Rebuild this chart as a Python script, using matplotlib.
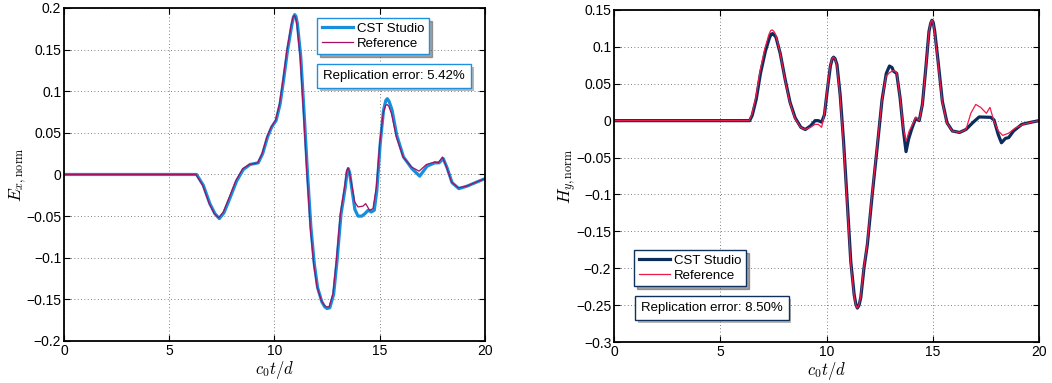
import matplotlib
matplotlib.use("Agg")
import matplotlib.pyplot as plt
from matplotlib.ticker import FuncFormatter
from matplotlib import patheffects as pe

plt.rcParams['font.family'] = ['Liberation Sans', 'DejaVu Sans']
plt.rcParams['mathtext.fontset'] = 'cm'

# E_x, normalised: reference solution
ex_ref_t = [0, 6.27, 6.59, 6.9, 7.14, 7.35, 7.57, 7.86, 8.17, 8.49, 8.81, 9.2, 9.41,
            9.64, 9.84, 10.05, 10.24, 10.4, 10.59, 10.79, 10.88, 10.94, 11.0, 11.06,
            11.22, 11.38, 11.54, 11.7, 11.86, 12.02, 12.22, 12.36, 12.46, 12.6, 12.78,
            12.94, 13.13, 13.33, 13.43, 13.49, 13.55, 13.65, 13.81, 13.97, 14.21, 14.33,
            14.52, 14.68, 14.84, 15.0, 15.16, 15.28, 15.35, 15.43, 15.56, 15.79, 16.11,
            16.51, 16.87, 17.22, 17.62, 17.78, 17.98, 18.17, 18.41, 18.73, 19.13, 19.6,
            20.0]
ex_ref = [0, 0, -0.013, -0.035, -0.047, -0.052, -0.045, -0.027, -0.007, 0.007, 0.012,
          0.014, 0.025, 0.045, 0.057, 0.065, 0.085, 0.113, 0.149, 0.179, 0.189, 0.191,
          0.189, 0.181, 0.141, 0.073, 0.001, -0.063, -0.107, -0.135, -0.151, -0.157,
          -0.159, -0.159, -0.143, -0.103, -0.047, -0.015, 0.004, 0.008, 0.004, -0.009,
          -0.033, -0.039, -0.038, -0.035, -0.043, -0.041, -0.015, 0.037, 0.073, 0.083,
          0.084, 0.082, 0.073, 0.045, 0.021, 0.009, 0.004, 0.012, 0.015, 0.014, 0.021,
          0.009, -0.009, -0.016, -0.014, -0.009, -0.005]

# E_x, normalised: CST Studio
ex_cst_t = [0, 6.3, 6.62, 6.93, 7.17, 7.38, 7.6, 7.89, 8.2, 8.52, 8.84, 9.23, 9.44,
            9.67, 9.87, 10.08, 10.27, 10.43, 10.62, 10.82, 10.9, 10.96, 11.02, 11.09,
            11.25, 11.41, 11.57, 11.73, 11.89, 12.05, 12.25, 12.39, 12.5, 12.63, 12.81,
            12.97, 13.16, 13.36, 13.45, 13.51, 13.57, 13.67, 13.82, 13.97, 14.15, 14.3,
            14.45, 14.6, 14.74, 14.86, 15.02, 15.18, 15.29, 15.36, 15.44, 15.58, 15.81,
            16.13, 16.53, 16.9, 17.25, 17.62, 17.82, 18.02, 18.2, 18.44, 18.76, 19.15,
            19.62, 20.0]
ex_cst = [0, 0, -0.013, -0.035, -0.047, -0.053, -0.046, -0.028, -0.008, 0.006, 0.012,
          0.014, 0.025, 0.045, 0.057, 0.065, 0.085, 0.113, 0.149, 0.179, 0.189, 0.192,
          0.190, 0.181, 0.141, 0.073, 0.001, -0.063, -0.107, -0.136, -0.153, -0.159,
          -0.161, -0.160, -0.144, -0.104, -0.048, -0.016, 0.003, 0.007, 0.002, -0.016,
          -0.042, -0.050, -0.050, -0.047, -0.043, -0.045, -0.043, -0.02, 0.036, 0.077,
          0.089, 0.091, 0.088, 0.078, 0.047, 0.021, 0.007, -0.002, 0.010, 0.014, 0.014,
          0.019, 0.008, -0.010, -0.017, -0.014, -0.009, -0.005]

# H_y, normalised: reference solution
hy_ref_t = [0, 6.36, 6.48, 6.67, 6.87, 7.1, 7.29, 7.37, 7.44, 7.52, 7.6, 7.8, 8.03,
            8.26, 8.5, 8.77, 8.99, 9.24, 9.46, 9.61, 9.77, 9.89, 10.02, 10.17, 10.26,
            10.32, 10.39, 10.48, 10.63, 10.79, 10.98, 11.13, 11.29, 11.37, 11.44, 11.52,
            11.6, 11.75, 11.91, 12.14, 12.37, 12.6, 12.8, 12.96, 13.15, 13.3, 13.46,
            13.61, 13.74, 13.89, 14.08, 14.2, 14.36, 14.51, 14.67, 14.82, 14.89, 14.95,
            15.01, 15.08, 15.24, 15.44, 15.66, 15.91, 16.25, 16.56, 16.79, 17.02, 17.25,
            17.52, 17.69, 17.88, 18.08, 18.29, 18.57, 18.88, 19.27, 19.65, 20.0]
hy_ref = [0, 0, 0.008, 0.031, 0.067, 0.098, 0.117, 0.122, 0.123, 0.121, 0.117, 0.094,
          0.058, 0.026, 0.004, -0.009, -0.012, -0.009, -0.005, -0.005, -0.009, 0.008,
          0.04, 0.074, 0.084, 0.086, 0.084, 0.076, 0.035, -0.028, -0.118, -0.191, -0.236,
          -0.249, -0.254, -0.250, -0.240, -0.2, -0.168, -0.1, -0.037, 0.026, 0.060,
          0.065, 0.068, 0.065, 0.031, -0.01, -0.028, -0.014, -0.003, 0.005, 0.0, 0.022,
          0.071, 0.121, 0.132, 0.136, 0.133, 0.121, 0.08, 0.026, -0.003, -0.014, -0.016,
          -0.012, 0.010, 0.022, 0.018, 0.010, 0.018, -0.001, -0.014, -0.020, -0.017,
          -0.01, -0.005, -0.002, 0.0]

# H_y, normalised: CST Studio
hy_cst_t = [0, 6.38, 6.5, 6.69, 6.89, 7.12, 7.31, 7.39, 7.46, 7.54, 7.62, 7.82, 8.05,
            8.28, 8.52, 8.79, 9.0, 9.25, 9.46, 9.61, 9.77, 9.9, 10.03, 10.18, 10.27,
            10.33, 10.4, 10.49, 10.64, 10.8, 10.99, 11.14, 11.3, 11.38, 11.45, 11.53,
            11.61, 11.76, 11.92, 12.15, 12.38, 12.61, 12.81, 12.96, 13.08, 13.15, 13.3,
            13.46, 13.61, 13.74, 13.86, 14.0, 14.1, 14.2, 14.36, 14.51, 14.67, 14.82,
            14.9, 14.96, 15.02, 15.09, 15.25, 15.45, 15.67, 15.92, 16.26, 16.56, 16.87,
            17.18, 17.72, 17.88, 18.08, 18.23, 18.42, 18.57, 18.8, 19.19, 19.65, 20.0]
hy_cst = [0, 0, 0.007, 0.029, 0.064, 0.094, 0.112, 0.117, 0.118, 0.116, 0.113, 0.091,
          0.056, 0.025, 0.004, -0.009, -0.012, -0.007, 0.0, 0.0, -0.002, 0.008, 0.04,
          0.074, 0.084, 0.086, 0.084, 0.076, 0.035, -0.028, -0.118, -0.191, -0.236,
          -0.249, -0.254, -0.250, -0.240, -0.2, -0.168, -0.1, -0.037, 0.028, 0.064,
          0.074, 0.072, 0.067, 0.064, 0.031, -0.012, -0.042, -0.025, -0.012, -0.004,
          0.003, 0.0, 0.022, 0.071, 0.121, 0.132, 0.136, 0.133, 0.121, 0.08, 0.026,
          -0.003, -0.014, -0.016, -0.012, -0.003, 0.005, 0.0045, 0.001, -0.019, -0.030,
          -0.024, -0.023, -0.014, -0.005, -0.002, 0.0]

panels = [
    dict(t_ref=ex_ref_t, ref=ex_ref, t_cst=ex_cst_t, cst=ex_cst,
         ylabel=r'$E_{x,\mathrm{norm}}$', yticks=[-0.2, -0.15, -0.1, -0.05, 0, 0.05,
                                                   0.1, 0.15, 0.2],
         cst_color='#1690de', ref_color='#a3105f', frame='#1f8fe0',
         error='Replication error: 5.42%',
         rect=[0.0608, 0.1097, 0.4002, 0.8695], ylabel_x=-0.084,
         leg_anchor=(0.601, 0.97), txt_pos=(0.616, 0.796)),
    dict(t_ref=hy_ref_t, ref=hy_ref, t_cst=hy_cst_t, cst=hy_cst,
         ylabel=r'$H_{y,\mathrm{norm}}$', yticks=[-0.3, -0.25, -0.2, -0.15, -0.1, -0.05,
                                                   0, 0.05, 0.1, 0.15],
         cst_color='#0b2c5c', ref_color='#f2184a', frame='#10305e',
         error='Replication error: 8.50%',
         rect=[0.5837, 0.107, 0.404, 0.867], ylabel_x=-0.082,
         leg_anchor=(0.047, 0.277), txt_pos=(0.063, 0.102)),
]

fmt = FuncFormatter(lambda v, _: f'{round(v, 4):g}'.replace('-', '\u2212'))

fig = plt.figure(figsize=(10.52, 3.83), dpi=100)
for p in panels:
    ax = fig.add_axes(p['rect'])
    ax.plot(p['t_cst'], p['cst'], color=p['cst_color'], lw=2.3, label='CST Studio')
    ax.plot(p['t_ref'], p['ref'], color=p['ref_color'], lw=0.9, label='Reference')
    ax.set_xlim(0, 20)
    ax.set_ylim(p['yticks'][0], p['yticks'][-1])
    ax.set_xticks([0, 5, 10, 15, 20])
    ax.set_yticks(p['yticks'])
    ax.yaxis.set_major_formatter(fmt)
    ax.grid(True, ls=(0, (1, 3)), color='#555555', lw=0.6)
    ax.tick_params(direction='in', top=True, right=True, length=4, labelsize=10,
                   width=0.8, pad=2)
    for s in ax.spines.values():
        s.set_linewidth(1.3)
    ax.set_xlabel(r'$c_0t/d$', fontsize=12, labelpad=1)
    ax.set_ylabel(p['ylabel'], fontsize=12.5)
    ax.yaxis.set_label_coords(p['ylabel_x'], 0.5)

    leg = ax.legend(loc='upper left', bbox_to_anchor=p['leg_anchor'], borderaxespad=0,
                    fontsize=9.5, fancybox=False, shadow=True, handlelength=2.4,
                    handletextpad=0.3, borderpad=0.35, labelspacing=0.2,
                    framealpha=1)
    leg.get_frame().set_edgecolor(p['frame'])
    leg.get_frame().set_linewidth(1.0)

    txt = ax.text(*p['txt_pos'], p['error'], transform=ax.transAxes, fontsize=9.5,
                  ha='left', va='center',
                  bbox=dict(boxstyle='square,pad=0.45', fc='white', ec=p['frame'], lw=1.0))
    txt.get_bbox_patch().set_path_effects(
        [pe.SimplePatchShadow(offset=(2, -2), shadow_rgbFace='#888888', alpha=0.6),
         pe.Normal()])

fig.savefig('out.png', dpi=100)
